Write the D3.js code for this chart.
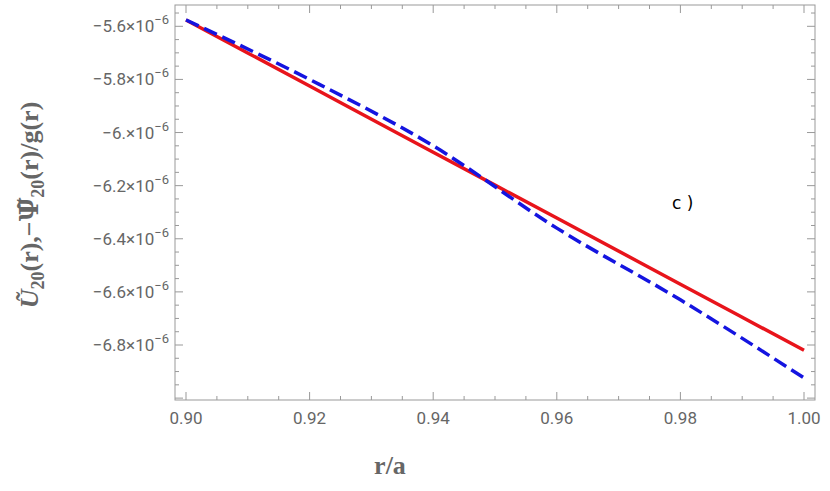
<!DOCTYPE html><html><head><meta charset="utf-8">
<script src="https://cdn.jsdelivr.net/npm/d3@7"></script>
<style>body{margin:0;background:#fff}</style></head><body><svg id="c" width="830" height="491"></svg>
<script>
const xs=[0.90,0.92,0.94,0.96,0.98,1.00];
const redVals=[-5.576,-5.825,-6.074,-6.322,-6.571,-6.82];
const blueVals=[-5.576,-5.80,-6.05,-6.36,-6.63,-6.924];
const xTicks=[0.90,0.92,0.94,0.96,0.98,1.00];
const yTicks=[-5.6,-5.8,-6.0,-6.2,-6.4,-6.6,-6.8];
const yTickLabels=["−5.6","−5.8","−6.","−6.2","−6.4","−6.6","−6.8"];
const svg=d3.select("#c");
const L=175,R=815,T=5,B=400;
const x=d3.scaleLinear().domain([0.9,1.0]).range([186,804]);
const y=d3.scaleLinear().domain([-5.6,-6.8]).range([26.3,345]);
const g=svg.append("g");
g.append("rect").attr("x",L).attr("y",T).attr("width",R-L).attr("height",B-T).attr("fill","none").attr("stroke","#999");
const grey="#666";
d3.range(0,21).forEach(i=>{const v=0.9+i*0.005;const major=i%4===0;g.append("line").attr("x1",x(v)).attr("x2",x(v)).attr("y1",B).attr("y2",B-(major?8:4)).attr("stroke","#999");g.append("line").attr("x1",x(v)).attr("x2",x(v)).attr("y1",T).attr("y2",T+(major?8:4)).attr("stroke","#999");});
xTicks.forEach(v=>g.append("text").attr("x",x(v)).attr("y",B+24).attr("text-anchor","middle").attr("font-family","Roboto, sans-serif").attr("font-size",17).attr("fill",grey).text(v.toFixed(2)));
d3.range(-2,30).forEach(i=>{const v=-5.6-i*0.05;const major=((i%4)+4)%4===0;const yy=y(v);if(yy<T||yy>B)return;g.append("line").attr("x1",L).attr("x2",L+(major?8:4)).attr("y1",yy).attr("y2",yy).attr("stroke","#999");g.append("line").attr("x1",R).attr("x2",R-(major?8:4)).attr("y1",yy).attr("y2",yy).attr("stroke","#999");});
yTicks.forEach((v,i)=>{const t=g.append("text").attr("x",L-6).attr("y",y(v)+6).attr("text-anchor","end").attr("font-family","Roboto, sans-serif").attr("font-size",17).attr("fill",grey);t.append("tspan").text(yTickLabels[i]+"×10");t.append("tspan").attr("dy",-8).attr("font-size",13).text("−6");});
const line=d3.line().x((d,i)=>x(xs[i])).y(d=>y(d)).curve(d3.curveMonotoneX);
g.append("path").attr("d",line(redVals)).attr("fill","none").attr("stroke","#e8141b").attr("stroke-width",3.5);
g.append("path").attr("d",line(blueVals)).attr("fill","none").attr("stroke","#1414e0").attr("stroke-width",3.5).attr("stroke-dasharray","14,6");
g.append("text").attr("x",672).attr("y",209).attr("font-family","DejaVu Sans, sans-serif").attr("font-size",17).text("c )");
g.append("text").attr("x",390).attr("y",474).attr("text-anchor","middle").attr("font-family","Liberation Serif, serif").attr("font-weight","bold").attr("font-size",26).attr("fill",grey).text("r/a");
const yl=g.append("text").attr("transform","translate(38,205) rotate(-90)").attr("text-anchor","middle").attr("font-family","Liberation Serif, serif").attr("font-weight","bold").attr("font-size",26).attr("fill",grey);
yl.append("tspan").attr("font-style","italic").text("Ũ");
yl.append("tspan").attr("dy",6).attr("font-size",18).text("20");
yl.append("tspan").attr("dy",-6).text("(r),−");
yl.append("tspan").attr("font-family","DejaVu Serif, serif").text("Ψ̃");
yl.append("tspan").attr("dy",6).attr("font-size",18).text("20");
yl.append("tspan").attr("dy",-6).text("(r)/g(r)");
</script></body></html>
